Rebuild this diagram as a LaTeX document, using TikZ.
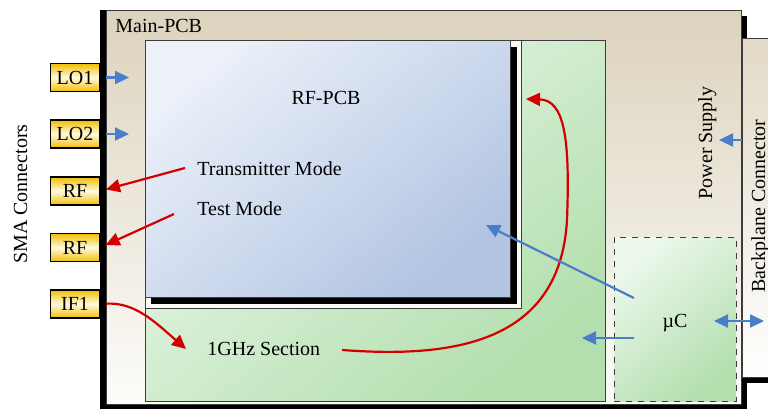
\documentclass[tikz,border=0pt]{standalone}
\usepackage{fontspec}
\setmainfont{Liberation Serif}
\usetikzlibrary{arrows.meta,fit,calc}
\definecolor{arrowblue}{HTML}{4A7EC8}
\definecolor{arrowred}{HTML}{D40000}
\definecolor{pcbtop}{HTML}{DCD3BD}
\definecolor{pcbbot}{HTML}{FDFCFA}
\definecolor{bptop}{HTML}{E2D9C6}
\definecolor{rflight}{HTML}{EBF0F9}
\definecolor{rfdark}{HTML}{B2C4E2}
\definecolor{grnlight}{HTML}{ECF8EC}
\definecolor{grndark}{HTML}{B3DFAE}
\definecolor{gold}{HTML}{F2BE00}
\definecolor{goldlight}{HTML}{FFFAE0}
\definecolor{edge}{HTML}{3C3C3C}
\definecolor{frame}{HTML}{FBFBF7}
\begin{document}
\begin{tikzpicture}[x=0.5pt,y=-0.5pt,
  font=\fontsize{10}{12}\selectfont,
  box/.style={draw=edge, line width=0.5pt, inner sep=0pt},
  smabox/.style={draw=black, line width=0.7pt, inner sep=0pt,
    minimum width=24.5pt, minimum height=14pt,
    top color=gold, bottom color=gold, middle color=goldlight},
  lbl/.style={inner sep=0pt},
  bluearrow/.style={draw=arrowblue, line width=1.1pt, -{Triangle[length=7pt,width=6.5pt]}},
  bluedouble/.style={draw=arrowblue, line width=1.1pt, {Triangle[length=7pt,width=6.5pt]}-{Triangle[length=7pt,width=6.5pt]}},
  redarrow/.style={draw=arrowred, line width=1.1pt, -{Triangle[length=7pt,width=6.5pt]}}]
\useasboundingbox (0,0) rectangle (768,409);
% Main PCB with black edge
\fill[black] (100,10) rectangle (741,409);
\fill[black] (741,16) rectangle (747,409);
\node[box, fit={(106,10)(741,404)}, top color=pcbtop, bottom color=pcbbot] (main) {};
% Backplane connector
\fill[black] (742,377) rectangle (770,383);
\node[box, fit={(742,38)(772,377)}, top color=bptop, bottom color=white] (bp) {};
% 1GHz section (green)
\node[box, fit={(145,40)(605,401)}, top color=grnlight, bottom color=grndark, shading angle=40] (ghz) {};
% white frame around RF-PCB
\node[box, fit={(145,40)(521,308)}, fill=frame] (rfframe) {};
\fill[black] (151,47) rectangle (517,304);
\node[box, fit={(145,40)(510,297)}, top color=rflight, bottom color=rfdark, shading angle=40] (rf) {};
% uC
\node[box, dashed, fit={(614,237)(736,401)}, top color=grnlight, bottom color=grndark, shading angle=40] (uc) {};
% SMA connectors
\node[smabox] (lo1) at (75,77.5) {LO1};
\node[smabox] (lo2) at (75,134) {LO2};
\node[smabox] (rf1) at (75,191) {RF};
\node[smabox] (rf2) at (75,247.5) {RF};
\node[smabox] (if1) at (75,304) {IF1};
% labels
\node[lbl, anchor=base west] (mainlbl) at (115,32) {Main-PCB};
\node[lbl, anchor=base] (rflbl) at (326,104) {RF-PCB};
\node[lbl, anchor=base west] (txlbl) at (197,175) {Transmitter Mode};
\node[lbl, anchor=base west] (testlbl) at (197,215) {Test Mode};
\node[lbl, anchor=base west] (ghzlbl) at (207,355) {1GHz Section};
\node[lbl, anchor=base] (uclbl) at (675,327) {µC};
\node[lbl, rotate=90, anchor=base] (pslbl) at (712,143) {Power Supply};
\node[lbl, rotate=90, anchor=base] (bplbl) at (765,206) {Backplane Connector};
\node[lbl, rotate=90, anchor=base] (smalbl) at (27,194) {SMA Connectors};
% connector end points
\coordinate (lo1t) at (129,77.5);
\coordinate (lo2t) at (129,134);
\coordinate (txs) at (185,168);
\coordinate (tests) at (174,214);
\coordinate (ghzin) at (186,349);
\coordinate (ghzs) at (342,350);
\coordinate (rfgreen) at (526,99);
\coordinate (ucs1) at (634,298);
\coordinate (rfin) at (486,225);
\coordinate (ucs2) at (634,338);
\coordinate (grnin) at (582,338);
\coordinate (ucs3) at (714,321);
\coordinate (bpin) at (764,321);
\coordinate (pss) at (742,140);
\coordinate (pst) at (719,140);
% arrows
\draw[bluearrow, shorten <=3pt] (lo1.east) -- (lo1t);
\draw[bluearrow, shorten <=3pt] (lo2.east) -- (lo2t);
\draw[redarrow, shorten >=3pt] (txs) -- (rf1.east);
\draw[redarrow, shorten >=3pt] (tests) -- (rf2.east);
\draw[redarrow, shorten <=3pt] (if1.east) .. controls (135,302) and (155,322) .. (ghzin);
\draw[redarrow] (ghzs) .. controls (450,358) and (560,345) .. (567,220)
  .. controls (570,140) and (565,100) .. (rfgreen);
\draw[bluearrow] (ucs1) -- (rfin);
\draw[bluearrow] (ucs2) -- (grnin);
\draw[bluedouble] (ucs3) -- (bpin);
\draw[bluearrow] (pss) -- (pst);
\end{tikzpicture}
\end{document}
